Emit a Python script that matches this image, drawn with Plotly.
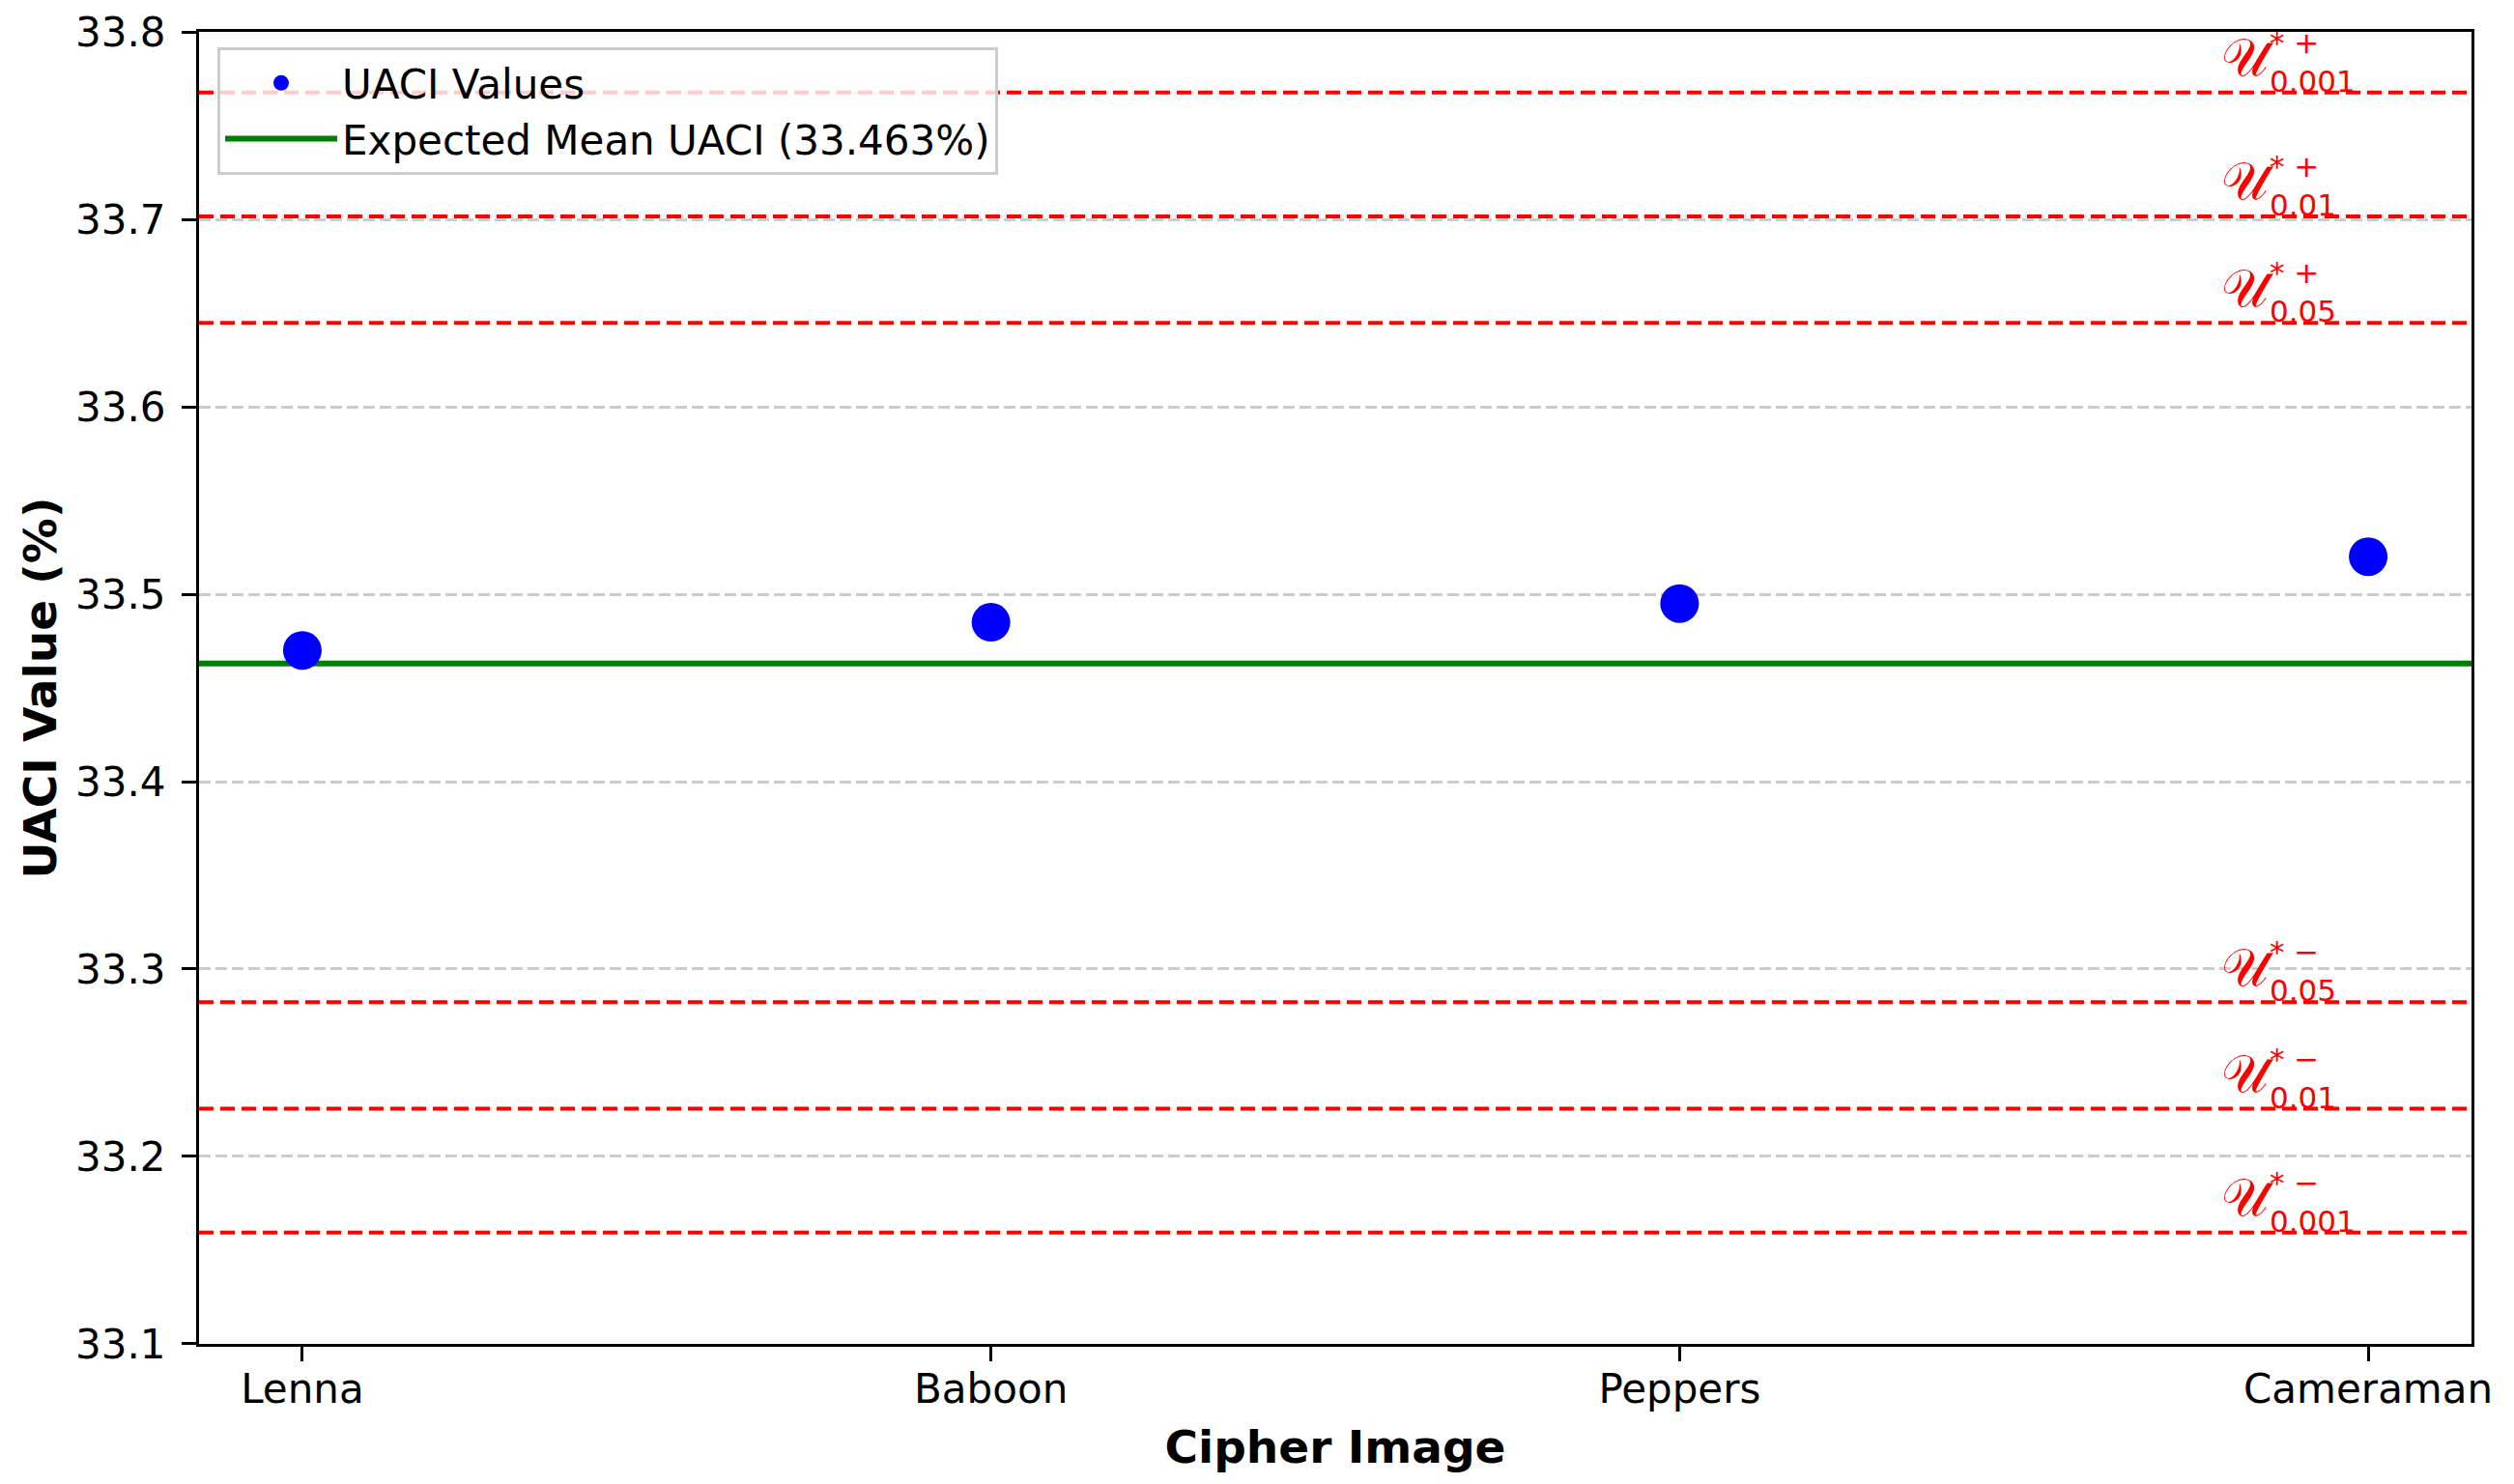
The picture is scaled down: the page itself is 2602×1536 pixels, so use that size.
import plotly.graph_objects as go

# UACI results for the four cipher images
images = ["Lenna", "Baboon", "Peppers", "Cameraman"]
uaci = [33.470, 33.485, 33.495, 33.520]
expected_mean = 33.463

# critical values (512x512 images) for significance levels
alphas = ["0.05", "0.01", "0.001"]
crit_lower = [33.2824, 33.2255, 33.1594]
crit_upper = [33.6447, 33.7016, 33.7677]

y_ticks = [33.1, 33.2, 33.3, 33.4, 33.5, 33.6, 33.7, 33.8]

FONT = "DejaVu Sans"
# the page body has an 8px margin, so the figure is 16px smaller than the window
W, H = 2586, 1520
ML, MR, MT, MB = 198, 36, 25, 137
PW, PH = W - ML - MR, H - MT - MB

fig = go.Figure()

fig.add_trace(go.Scatter(
    x=images, y=uaci, mode="markers", name="UACI Values",
    marker=dict(color="blue", size=40, line=dict(width=0)),
))

fig.add_hline(y=expected_mean, line=dict(color="green", width=6), layer="below",
              showlegend=True, name=f"Expected Mean UACI ({expected_mean}%)")

xsplit = (2342 - 8 - ML) / PW   # between the script U and its indices
for a, lo, hi in zip(alphas, crit_lower, crit_upper):
    for val, sign in ((hi, "+"), (lo, "\u2212")):
        fig.add_hline(y=val, line=dict(color="red", width=4, dash="15px,7px"))
        fig.add_annotation(x=xsplit, xref="paper", y=val, yref="y", text="\U0001D4B0",
                           showarrow=False, xanchor="right", yanchor="middle",
                           xshift=14, yshift=36,
                           font=dict(family=FONT, size=54, color="red"))
        fig.add_annotation(x=xsplit, xref="paper", y=val, yref="y",
                           text="* " + sign + "<br>" + a, align="left",
                           showarrow=False, xanchor="left", yanchor="bottom",
                           xshift=5, yshift=-8,
                           font=dict(family=FONT, size=31, color="red"))

fig.update_layout(
    template="none",
    width=W, height=H,
    margin=dict(l=ML, r=MR, t=MT, b=MB, pad=0),
    paper_bgcolor="white", plot_bgcolor="white",
    font=dict(family=FONT, size=42, color="black"),
    showlegend=True,
    legend=dict(x=(225 - 8 - ML) / PW, y=1 - (49 - 8 - MT) / PH,
                xanchor="left", yanchor="top",
                bgcolor="rgba(255,255,255,0.8)", bordercolor="#cccccc", borderwidth=3,
                font=dict(family=FONT, size=42), itemwidth=116, tracegroupgap=0),
)

fig.update_xaxes(
    range=[-0.15, 3.15], showline=True, linecolor="black", linewidth=3, mirror=True,
    ticks="outside", ticklen=15, tickwidth=3, tickcolor="black", ticklabelstandoff=-7,
    tickfont=dict(family=FONT, size=42), showgrid=False, zeroline=False, automargin=False,
    title=dict(text="Cipher Image", standoff=20,
               font=dict(family=FONT, size=47, weight="bold")),
)
fig.update_yaxes(
    range=[33.09999, 33.80001], tickvals=y_ticks, tickformat=".1f",
    showline=True, linecolor="black", linewidth=3, mirror=True,
    ticks="outside", ticklen=15, tickwidth=3, tickcolor="black", ticklabelstandoff=8,
    ticklabeloverflow="allow",
    tickfont=dict(family=FONT, size=42),
    showgrid=True, gridcolor="#cccccc", gridwidth=3, griddash="12px,5px",
    zeroline=False, automargin=False,
    title=dict(text="UACI Value (%)", standoff=5,
               font=dict(family=FONT, size=47, weight="bold")),
)

fig.write_html("out.html")
